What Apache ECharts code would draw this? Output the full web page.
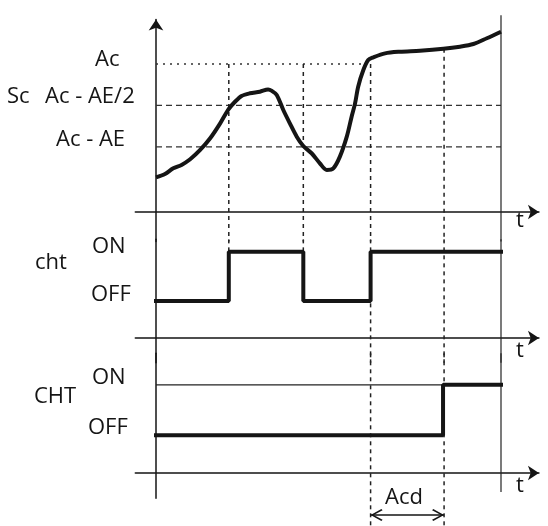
<!DOCTYPE html>
<html lang="en">
<head>
<meta charset="UTF-8">
<title>Sc / cht / CHT</title>
<script src="https://cdn.jsdelivr.net/npm/echarts@6/dist/echarts.min.js"></script>
<style>
html, body { margin: 0; padding: 0; background: #fff; }
#main { width: 548px; height: 526px; }
</style>
</head>
<body>
<div id="main"></div>
<script>
// time: 0 = vertical axis, 100 = right hand line
var T_MIN = -6, T_MAX = 111, T_END = 100;
var T_ON1 = 21.1, T_OFF1 = 42.7, T_ON2 = 62.2, T_ACD = 83.5, T_CHT = 83.2;
var T_AC_END = 61;

// top panel, t axis = 0
var AC = 100, AC_HALF = 72, AC_AE = 44;
var scTime  = [0, 2.6, 5.0, 7.4, 9.9, 12.8, 15.7, 18.6, 21.0, 22.9, 24.8, 27.2, 30.1, 32.5, 33.6, 35.0,
               36.9, 38.8, 40.8, 42.7, 45.1, 47.5, 49.5, 51.4, 53.3, 55.3, 56.7, 57.7, 58.6, 60.1,
               61.5, 63.0, 66.4, 70.7, 76.5, 83.3, 88.1, 92.0, 95.9, 100];
var scValue = [23.4, 25.7, 29.5, 31.8, 35.6, 41.9, 49.8, 59.9, 69.4, 74.5, 78.4, 80.2, 81.3, 82.8, 81.8, 79.1,
               68.9, 59.9, 50.9, 44.6, 39.7, 32.9, 28.4, 29.5, 37.4, 50.9, 64.4, 73.4, 84.7, 95.9,
               102.7, 104.5, 107.2, 108.3, 109.0, 110.3, 111.7, 113.5, 117.4, 121.8];

// switching panels
var OFF = 3, ON = 7;
var chtTime  = [0, T_ON1, T_OFF1, T_ON2, T_END];
var chtState = [OFF, ON, OFF, ON, ON];
var CHTTime  = [0, T_CHT, T_END];
var CHTState = [OFF, ON, ON];

// y ranges of the three panels
var Y1 = [-20, 130], Y2 = [-2, 8], Y3 = [-2, 9.5];
var ACD_Y = -3.33, BOTTOM_Y = -4.3;

var INK = '#151515';
var FONT = '22px "Open Sans", "Noto Sans", sans-serif';
var CHEV = 'path://M5,0 L10,9 L9,10 L5,2.6 L1,10 L0,9 Z';

var myChart = echarts.init(document.getElementById('main'));

function pairs(xs, ys) {
    return xs.map(function (x, i) { return [x, ys[i]]; });
}

function seg(grid, data, style, extra) {
    var s = {
        type: 'line',
        xAxisIndex: grid,
        yAxisIndex: grid,
        data: data,
        symbol: 'none',
        silent: true,
        clip: false,
        lineStyle: style
    };
    for (var k in extra) s[k] = extra[k];
    return s;
}

var dotted = { color: '#333', width: 1.3, type: [2, 5] };
var dashed = { color: '#333', width: 1.3, type: [6, 4] };
var vdash  = { color: '#222', width: 1.5, type: [4, 4] };
var thin   = { color: '#222', width: 1.2, type: 'solid' };
var thick  = { color: INK, width: 4, type: 'solid', cap: 'square' };

function xAxis(grid) {
    return {
        type: 'value', gridIndex: grid, min: T_MIN, max: T_MAX,
        axisLine: { onZero: true, symbol: ['none', 'arrow'], symbolSize: [11, 11],
                    lineStyle: { color: INK, width: 1.5 } },
        axisTick: { show: false }, axisLabel: { show: false }, splitLine: { show: false }
    };
}
function yAxis(grid, range, arrow) {
    return {
        type: 'value', gridIndex: grid, min: range[0], max: range[1],
        axisLine: { show: true, onZero: true, symbol: arrow ? ['none', 'arrow'] : 'none',
                    symbolSize: [11, 11], lineStyle: { color: INK, width: 1.5 } },
        axisTick: { show: false }, axisLabel: { show: false }, splitLine: { show: false }
    };
}

var left = 156 + T_MIN * 3.45, width = (T_MAX - T_MIN) * 3.45;

function txt(s, x, y) {
    return { type: 'text', x: x, y: y, silent: true,
             style: { text: s, font: FONT, fill: INK, align: 'left', verticalAlign: 'middle' } };
}

var option = {
    animation: false,
    backgroundColor: '#fff',
    grid: [
        { left: left, width: width, top: 212 - Y1[1] * 1.48, height: (Y1[1] - Y1[0]) * 1.48 },
        { left: left, width: width, top: 338 - Y2[1] * 12.33, height: (Y2[1] - Y2[0]) * 12.33 },
        { left: left, width: width, top: 473 - Y3[1] * 12.6, height: (Y3[1] - Y3[0]) * 12.6 }
    ],
    xAxis: [xAxis(0), xAxis(1), xAxis(2)],
    yAxis: [yAxis(0, Y1, true), yAxis(1, Y2, false), yAxis(2, Y3, false)],
    series: [
        // top panel guides
        seg(0, [[0, AC], [T_AC_END, AC]], dotted),
        seg(0, [[0, AC_HALF], [T_END, AC_HALF]], dashed),
        seg(0, [[0, AC_AE], [T_END, AC_AE]], dashed),
        seg(0, [[T_ON1, AC], [T_ON1, Y1[0]]], vdash),
        seg(0, [[T_OFF1, AC], [T_OFF1, Y1[0]]], vdash),
        seg(0, [[T_ON2, AC], [T_ON2, Y1[0]]], vdash),
        seg(0, [[T_ACD, 110.3], [T_ACD, Y1[0]]], vdash),
        seg(0, [[T_END, 133], [T_END, Y1[0]]], thin),
        seg(0, pairs(scTime, scValue), { color: INK, width: 4 }, { smooth: 0.3, z: 5 }),
        // cht
        seg(1, [[T_ON1, Y2[1]], [T_ON1, ON]], vdash),
        seg(1, [[T_OFF1, Y2[1]], [T_OFF1, ON]], vdash),
        seg(1, [[T_ON2, Y2[1]], [T_ON2, Y2[0]]], vdash),
        seg(1, [[T_ACD, Y2[1]], [T_ACD, Y2[0]]], vdash),
        seg(1, [[T_END, Y2[1]], [T_END, Y2[0]]], thin),
        seg(1, pairs(chtTime, chtState), thick, { step: 'end', z: 5 }),
        // CHT
        seg(2, [[T_ON2, Y3[1]], [T_ON2, BOTTOM_Y]], vdash),
        seg(2, [[T_ACD, Y3[1]], [T_ACD, BOTTOM_Y]], vdash),
        seg(2, [[T_END, Y3[1]], [T_END, -1.5]], thin),
        seg(2, [[0, ON], [T_END, ON]], thin),
        seg(2, pairs(CHTTime, CHTState), thick, { step: 'end', z: 5 }),
        // Acd double arrow
        seg(2, [
            { value: [T_ON2, ACD_Y], symbolRotate: 90, symbolOffset: [6, 0] },
            { value: [T_ACD, ACD_Y], symbolRotate: -90, symbolOffset: [-6, 0] }
        ], { color: INK, width: 1.5, type: 'solid' }, {
            symbol: CHEV, symbolSize: 12, showSymbol: true,
            itemStyle: { color: INK }, z: 6
        })
    ],
    graphic: [
        txt('Ac', 95, 60),
        txt('Sc', 7, 97),
        txt('Ac - AE/2', 45, 97),
        txt('Ac - AE', 56, 140),
        txt('cht', 35, 263),
        txt('ON', 92, 247),
        txt('OFF', 91, 295),
        txt('CHT', 34, 397),
        txt('ON', 92, 378),
        txt('OFF', 88, 428),
        txt('t', 516, 221),
        txt('t', 516, 351),
        txt('t', 516, 486),
        txt('Acd', 385, 498)
    ]
};

myChart.setOption(option);
</script>
</body>
</html>
